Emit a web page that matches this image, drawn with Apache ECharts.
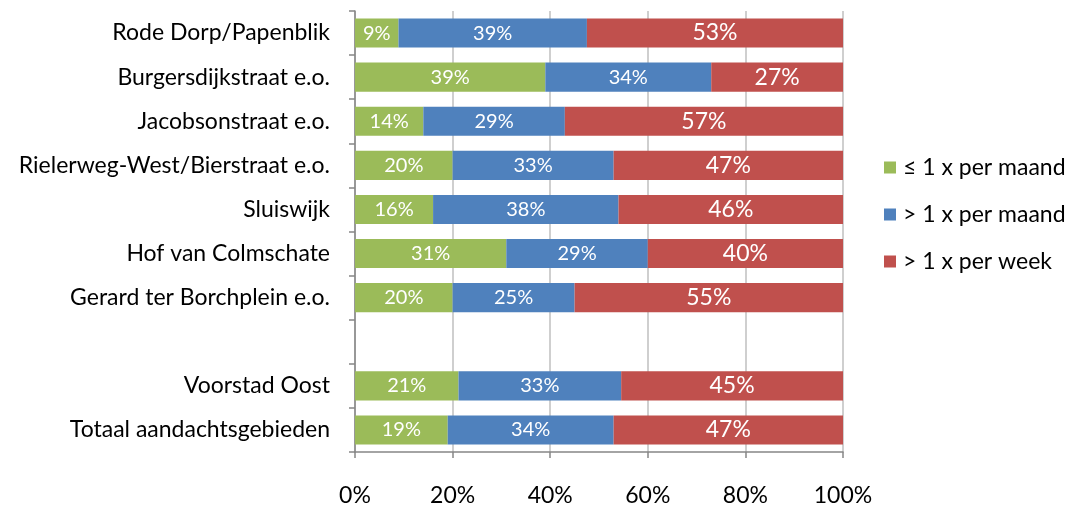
<!DOCTYPE html>
<html>
<head>
<meta charset="utf-8">
<script src="https://cdn.jsdelivr.net/npm/echarts@6/dist/echarts.min.js"></script>
<style>html,body{margin:0;padding:0;background:#fff}#c{width:1067px;height:507px}</style>
</head>
<body>
<div id="c"></div>
<script>
const categories = ['Rode Dorp/Papenblik','Burgersdijkstraat e.o.','Jacobsonstraat e.o.','Rielerweg-West/Bierstraat e.o.','Sluiswijk','Hof van Colmschate','Gerard ter Borchplein e.o.','','Voorstad Oost','Totaal aandachtsgebieden'];
const seriesNames = ['\u2264 1 x per maand','> 1 x per maand','> 1 x per week'];
const lowMonthly = [9,39,14,20,16,31,20,null,21,19];
const highMonthly = [39,34,29,33,38,29,25,null,33,34];
const weekly = [53,27,57,47,46,40,55,null,45,47];
const xTicks = [0,20,40,60,80,100];

const raw = [lowMonthly, highMonthly, weekly];
const colors = ['#9BBB59','#4F81BD','#C0504D'];
const labelSizes = [20,20,23];
const FONT = 'Lato, "Open Sans", sans-serif';

const totals = categories.map((_, i) => raw.reduce((s, a) => s + (a[i] || 0), 0));

const series = raw.map((arr, k) => ({
  name: seriesNames[k],
  type: 'bar',
  stack: 'total',
  barCategoryGap: '34%',
  itemStyle: { color: colors[k] },
  label: {
    show: true,
    position: 'inside',
    color: '#fff',
    fontFamily: FONT,
    fontSize: labelSizes[k],
    formatter: p => arr[p.dataIndex] == null ? '' : arr[p.dataIndex] + '%'
  },
  data: arr.map((v, i) => v == null ? '-' : v / totals[i] * 100)
}));

const chart = echarts.init(document.getElementById('c'));
chart.setOption({
  animation: false,
  textStyle: { fontFamily: FONT },
  grid: { left: 355, right: 224, top: 11, bottom: 52, containLabel: false },
  legend: {
    orient: 'vertical',
    left: 879,
    top: 151,
    itemWidth: 12,
    itemHeight: 12,
    itemGap: 24,
    icon: 'rect',
    textStyle: { fontFamily: FONT, fontSize: 23, color: '#000', padding: [0,0,0,2] },
    data: seriesNames
  },
  xAxis: {
    type: 'value',
    min: 0,
    max: 100,
    interval: 20,
    axisLine: { show: true, lineStyle: { color: '#868686', width: 1.5 } },
    axisTick: { show: true, length: 6, lineStyle: { color: '#868686', width: 1.5 } },
    splitLine: { show: true, lineStyle: { color: '#BFBFBF', width: 1.5 } },
    axisLabel: {
      margin: 32,
      fontSize: 23,
      color: '#000',
      fontFamily: FONT,
      formatter: v => xTicks.includes(v) ? v + '%' : ''
    }
  },
  yAxis: {
    type: 'category',
    inverse: true,
    data: categories,
    axisLine: { show: true, lineStyle: { color: '#868686', width: 1.5 } },
    axisTick: { show: true, length: 6, lineStyle: { color: '#868686', width: 1.5 } },
    axisLabel: { margin: 25, fontSize: 23, color: '#000', fontFamily: FONT }
  },
  series: series
});
</script>
</body>
</html>
